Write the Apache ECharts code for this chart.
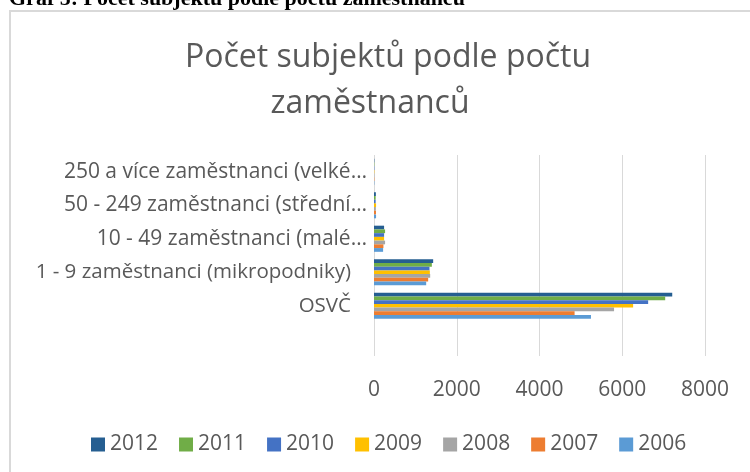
<!DOCTYPE html>
<html>
<head>
<meta charset="utf-8">
<script src="https://cdn.jsdelivr.net/npm/echarts@6/dist/echarts.min.js"></script>
<style>
  html, body { margin: 0; padding: 0; background: #fff; }
  #main { width: 750px; height: 472px; }
</style>
</head>
<body>
<div id="main"></div>
<script>
// categories bottom -> top (first one is the empty row Excel keeps)
var categories = ['', 'OSVČ', '1 - 9 zaměstnanci (mikropodniky)', '10 - 49 zaměstnanci (malé…',
    '50 - 249 zaměstnanci (střední…', '250 a více zaměstnanci (velké…'];
var years = ['2012', '2011', '2010', '2009', '2008', '2007', '2006'];
var colors = ['#255E91', '#70AD47', '#4472C4', '#FFC000', '#A5A5A5', '#ED7D31', '#5B9BD5'];

// values per year: OSVČ, 1-9, 10-49, 50-249, 250+
var v2012 = [7208, 1430, 244, 45, 8];
var v2011 = [7038, 1398, 268, 40, 8];
var v2010 = [6626, 1341, 244, 40, 8];
var v2009 = [6263, 1350, 244, 50, 8];
var v2008 = [5802, 1358, 268, 45, 8];
var v2007 = [4848, 1309, 228, 48, 8];
var v2006 = [5244, 1261, 220, 50, 8];
var xTicks = [0, 2000, 4000, 6000, 8000];

var values = [v2012, v2011, v2010, v2009, v2008, v2007, v2006];
var font = '"Open Sans", "Noto Sans", sans-serif';

var chartDom = document.getElementById('main');
var myChart = echarts.init(chartDom, null, { renderer: 'canvas' });

var series = years.map(function (y, i) {
    return {
        name: y,
        type: 'bar',
        data: [null].concat(values[i]),
        itemStyle: { color: colors[i] },
        barGap: '0%',
        barCategoryGap: '22%'
    };
});

var option = {
    animation: false,
    backgroundColor: '#fff',
    graphic: [
        {
            type: 'rect',
            shape: { x: 10, y: 11, width: 800, height: 500 },
            style: { fill: 'none', stroke: '#d9d9d9', lineWidth: 2 },
            z: -1
        },
        {
            type: 'text',
            left: 9,
            top: -12,
            style: {
                text: 'Graf 5: Počet subjektů podle počtu zaměstnanců',
                font: 'bold 22px "Liberation Serif", "DejaVu Serif", serif',
                fill: '#000'
            }
        }
    ],
    title: [
        {
            text: 'Počet subjektů podle počtu',
            left: 383, top: 37, textAlign: 'center',
            textStyle: { fontFamily: font, fontSize: 32, fontWeight: 'normal', color: '#595959', lineHeight: 32 }
        },
        {
            text: 'zaměstnanců',
            left: 365, top: 83, textAlign: 'center',
            textStyle: { fontFamily: font, fontSize: 32, fontWeight: 'normal', color: '#595959', lineHeight: 32 }
        }
    ],
    legend: {
        data: years,
        left: 86,
        top: 429,
        itemWidth: 14,
        itemHeight: 14,
        itemGap: 21,
        icon: 'rect',
        textStyle: { fontFamily: font, fontSize: 21, color: '#595959' }
    },
    grid: { left: 374, right: 45, top: 155, bottom: 116, containLabel: false },
    xAxis: {
        type: 'value',
        min: xTicks[0],
        max: xTicks[xTicks.length - 1],
        interval: xTicks[1] - xTicks[0],
        axisLine: { show: false },
        axisTick: { show: false },
        splitLine: { lineStyle: { color: '#d9d9d9', width: 1 } },
        axisLabel: {
            margin: 24, fontFamily: font, fontSize: 21, color: '#595959',
            formatter: function (v) { return String(v); }
        }
    },
    yAxis: {
        type: 'category',
        data: categories,
        axisLine: { show: false },
        axisTick: { show: false },
        axisLabel: {
            margin: 7,
            interval: 0,
            formatter: function (v) {
                if (!v) return '';
                return v.slice(-1) === '…' ? '{t|' + v + '}' : '{f|' + v + '}';
            },
            rich: {
                t: { fontFamily: font, fontSize: 21, color: '#595959' },
                f: { fontFamily: font, fontSize: 20.5, color: '#595959', padding: [0, 16, 0, 0] }
            }
        }
    },
    series: series
};

option && myChart.setOption(option);
</script>
</body>
</html>
